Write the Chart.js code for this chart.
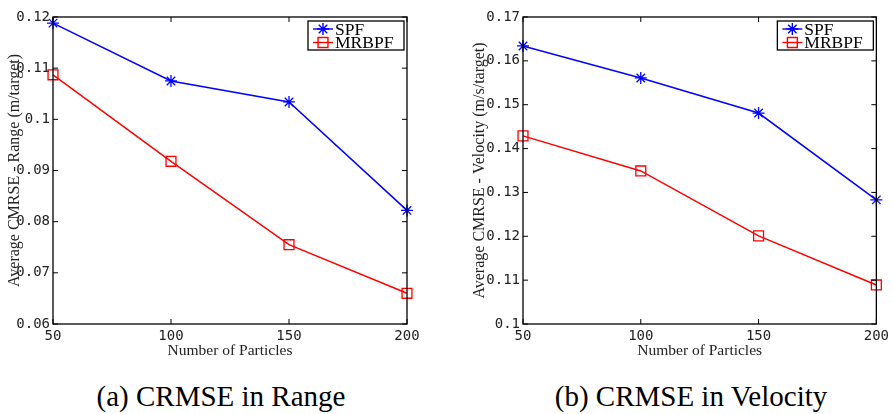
<!DOCTYPE html>
<html>
<head>
<meta charset="utf-8">
<script src="https://cdn.jsdelivr.net/npm/chart.js@4.4.1/dist/chart.umd.min.js"></script>
<style>
body{margin:0;background:#fff;width:893px;height:414px;position:relative;overflow:hidden}
canvas{position:absolute;top:0}
.cap{position:absolute;top:382px;font:29px "Liberation Serif",serif;line-height:29px;text-align:center;color:#000;white-space:nowrap}
</style>
</head>
<body>
<canvas id="range" width="446" height="362" style="left:0"></canvas>
<canvas id="velocity" width="428" height="362" style="left:465px"></canvas>
<div class="cap" style="left:0;width:442px">(a) CRMSE in Range</div>
<div class="cap" style="left:441px;width:500px">(b) CRMSE in Velocity</div>
<script>
// values
const particles = [50, 100, 150, 200];
const rangeSPF = [0.1188, 0.1075, 0.1034, 0.0822];
const rangeMRBPF = [0.1087, 0.0918, 0.0755, 0.0660];
const velocitySPF = [0.1634, 0.1561, 0.1481, 0.1283];
const velocityMRBPF = [0.1429, 0.1349, 0.1201, 0.1089];
const rangeTicks = [0.06, 0.07, 0.08, 0.09, 0.1, 0.11, 0.12];
const velocityTicks = [0.1, 0.11, 0.12, 0.13, 0.14, 0.15, 0.16, 0.17];

const mono = '"DejaVu Sans Mono", monospace';
const serif = '"Liberation Serif", serif';

function drawMarker(ctx, style, x, y, r) {
    ctx.beginPath();
    if (style === 'star') {
        const d = r * Math.SQRT1_2;
        ctx.moveTo(x - r, y); ctx.lineTo(x + r, y);
        ctx.moveTo(x, y - r); ctx.lineTo(x, y + r);
        ctx.moveTo(x - d, y - d); ctx.lineTo(x + d, y + d);
        ctx.moveTo(x - d, y + d); ctx.lineTo(x + d, y - d);
    } else {
        const s = r * Math.SQRT1_2;
        ctx.rect(x - s, y - s, 2 * s, 2 * s);
    }
    ctx.stroke();
}

// matlab style box, inward ticks and legend
const frame = {
    id: 'frame',
    afterDraw(chart) {
        const { ctx, chartArea: a, scales: { x, y } } = chart;
        ctx.save();
        ctx.strokeStyle = '#000';
        ctx.lineWidth = 1.3;
        ctx.strokeRect(a.left, a.top, a.right - a.left, a.bottom - a.top);
        ctx.lineWidth = 1;
        ctx.beginPath();
        x.ticks.forEach((t, i) => {
            const px = x.getPixelForTick(i);
            ctx.moveTo(px, a.bottom); ctx.lineTo(px, a.bottom - 5);
            ctx.moveTo(px, a.top); ctx.lineTo(px, a.top + 5);
        });
        y.ticks.forEach(t => {
            const py = y.getPixelForValue(t.value);
            ctx.moveTo(a.left, py); ctx.lineTo(a.left + 5, py);
            ctx.moveTo(a.right, py); ctx.lineTo(a.right - 5, py);
        });
        ctx.stroke();

        // legend
        const bx = a.right - 99, by = a.top + 4, bw = 96, bh = 29;
        ctx.fillStyle = '#fff';
        ctx.fillRect(bx, by, bw, bh);
        ctx.lineWidth = 1.3;
        ctx.strokeStyle = '#000';
        ctx.strokeRect(bx, by, bw, bh);
        ctx.font = '17.5px ' + serif;
        ctx.textBaseline = 'middle';
        chart.data.datasets.forEach((ds, i) => {
            const ry = by + 8 + i * 13.5;
            ctx.strokeStyle = ds.borderColor;
            ctx.lineWidth = 1.4;
            ctx.beginPath();
            ctx.moveTo(bx + 5, ry); ctx.lineTo(bx + 25, ry);
            ctx.stroke();
            drawMarker(ctx, ds.pointStyle, bx + 15, ry, ds.pointRadius);
            ctx.fillStyle = '#000';
            ctx.fillText(ds.label, bx + 27, ry + 1);
        });
        ctx.restore();
    }
};

function makeChart(id, spf, mrbpf, yTicks, yTitle, axisWidth, rightPad) {
    return new Chart(document.getElementById(id), {
        type: 'line',
        data: {
            labels: particles,
            datasets: [
                { label: 'SPF', data: spf, borderColor: '#0000ff', backgroundColor: '#0000ff',
                  pointStyle: 'star', pointRadius: 6, pointBorderWidth: 1.3, borderWidth: 1.5, clip: false },
                { label: 'MRBPF', data: mrbpf, borderColor: '#ff0000', backgroundColor: 'rgba(0,0,0,0)',
                  pointStyle: 'rect', pointRadius: 7, pointBorderWidth: 1.3, borderWidth: 1.5, clip: false }
            ]
        },
        options: {
            responsive: false,
            animation: false,
            devicePixelRatio: 1,
            layout: { padding: { top: 17, right: rightPad, left: 0, bottom: 0 } },
            plugins: { legend: { display: false }, tooltip: { enabled: false } },
            scales: {
                x: {
                    offset: false,
                    grid: { display: false, drawTicks: false },
                    border: { display: false },
                    ticks: { font: { family: mono, size: 14 }, color: '#222', padding: 4, maxRotation: 0, autoSkip: false },
                    title: { display: true, text: 'Number of Particles', font: { family: serif, size: 15.5 }, color: '#222', padding: { top: 0, bottom: 2 } },
                    afterFit(s) { s.height = 38; }
                },
                y: {
                    min: yTicks[0],
                    max: yTicks[yTicks.length - 1],
                    grid: { display: false, drawTicks: false },
                    border: { display: false },
                    afterBuildTicks(s) { s.ticks = yTicks.map(v => ({ value: v })); },
                    ticks: { font: { family: mono, size: 14 }, color: '#222', padding: 3, callback: v => String(v) },
                    title: { display: true, text: yTitle, font: { family: serif, size: 16 }, color: '#222', padding: { top: 5, bottom: 0 } },
                    afterFit(s) { s.width = axisWidth; }
                }
            }
        },
        plugins: [frame]
    });
}

makeChart('range', rangeSPF, rangeMRBPF, rangeTicks, 'Average CMRSE - Range (m/target)', 53, 39);
makeChart('velocity', velocitySPF, velocityMRBPF, velocityTicks, 'Average CMRSE - Velocity (m/s/target)', 58, 14);
</script>
</body>
</html>
